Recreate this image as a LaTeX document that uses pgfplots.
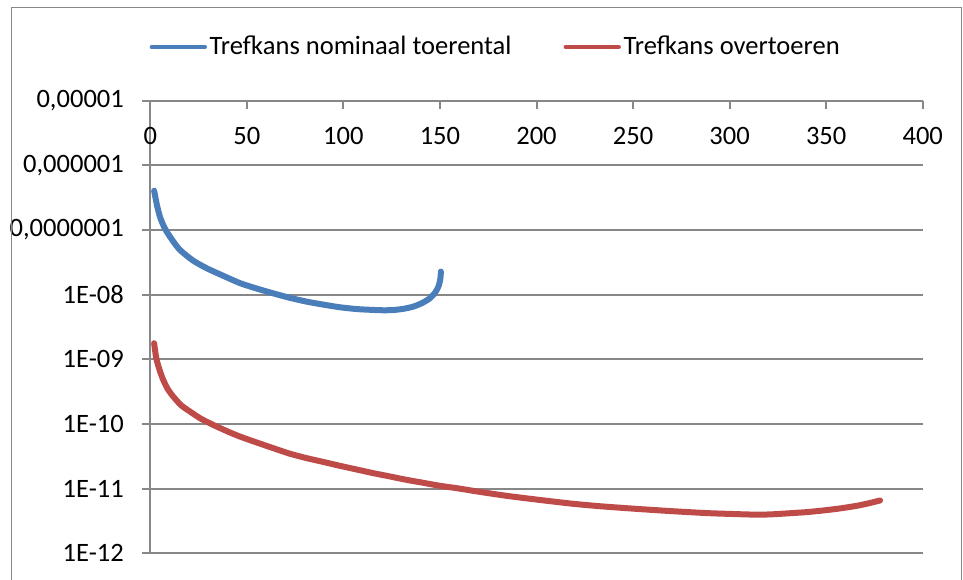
\documentclass[border=0pt]{standalone}
\usepackage{fontspec}
\setmainfont{Carlito}
\usepackage{pgfplots}
\pgfplotsset{compat=1.18}
\definecolor{sblue}{HTML}{4A7EBB}
\definecolor{sred}{HTML}{BE4B48}
\definecolor{gridgray}{HTML}{878787}
\begin{document}
\fontsize{19.9}{24}\selectfont
\begin{tikzpicture}
\path[use as bounding box] (-112.7pt,-19.3pt) rectangle (609.5pt,415pt);
\begin{axis}[
  scale only axis, width=579.3pt, height=339.45pt,
  ymode=log, ymin=1e-12, ymax=1e-5,
  xmin=0, xmax=400,
  xtick={0,50,...,400},
  ytick={1e-12,1e-11,1e-10,1e-9,1e-8,1e-7,1e-6,1e-5},
  yticklabels={1E-12,1E-11,1E-10,1E-09,1E-08,{0,0000001},{0,000001},{0,00001}},
  yminorticks=false,
  axis x line*=top, axis y line*=left,
  axis line style={gridgray, line width=1.5pt, -},
  ymajorgrids, major grid style={gridgray, line width=1.5pt},
  xtick align=inside, ytick align=outside,
  major tick length=6pt,
  tick style={gridgray, line width=1.5pt},
  xticklabel style={anchor=north, yshift=-13pt},
  yticklabel style={xshift=-7pt},
  /pgf/number format/assume math mode=true,
  legend columns=2,
  legend style={draw=none, fill=none, at={(0.4476,1)}, anchor=center, yshift=40.3pt,
    /tikz/every even column/.append style={column sep=37pt}},
  legend image code/.code={\draw[#1, line width=3pt, line cap=round] (0pt,0pt) -- (40pt,0pt);},
  clip=false,
]
\addplot[sblue, line width=4.5pt, line join=round, line cap=round, smooth, tension=0.4] coordinates {
(2,4.06e-7) (3.5,2.4e-7) (5,1.61e-7) (6.7,1.2e-7) (8.5,9.45e-8) (12,6.6e-8) (15.4,4.92e-8)
(22,3.4e-8) (29.2,2.57e-8) (38,1.95e-8) (46.5,1.51e-8) (55,1.25e-8) (63.7,1.05e-8)
(72,9.0e-9) (81,7.82e-9) (90,7.0e-9) (98.2,6.40e-9) (107,6.0e-9) (115.5,5.82e-9)
(121,5.75e-9) (125.8,5.8e-9) (131,6.05e-9) (136.2,6.55e-9) (141,7.5e-9) (144.8,8.83e-9)
(147.5,1.08e-8) (149.2,1.33e-8) (150.2,1.75e-8) (150.5,2.28e-8)
};
\addlegendentry{Trefkans nominaal toerental}
\addplot[sred, line width=4.5pt, line join=round, line cap=round, smooth, tension=0.4] coordinates {
(2,1.78e-9) (2.6,1.3e-9) (3.3,9.8e-10) (5,6.6e-10) (6.7,4.82e-10) (9,3.5e-10) (11.9,2.66e-10)
(16,1.95e-10) (20.6,1.56e-10) (26,1.22e-10) (32.6,9.7e-11) (40,7.7e-11) (46.5,6.4e-11)
(55,5.2e-11) (63.7,4.24e-11) (72,3.5e-11) (81,2.97e-11) (90,2.58e-11) (98.2,2.26e-11)
(107,1.98e-11) (115.5,1.74e-11) (124,1.55e-11) (132.8,1.37e-11) (141,1.24e-11)
(150,1.11e-11) (158.7,1.02e-11) (170,9.0e-12) (184.6,7.76e-12) (200,6.8e-12)
(219.1,5.84e-12) (235,5.3e-12) (253.6,4.84e-12) (270,4.5e-12) (288.1,4.20e-12)
(300,4.08e-12) (314,3.97e-12) (322,4.02e-12) (331.3,4.18e-12) (340,4.35e-12)
(348.5,4.61e-12) (357,4.95e-12) (365.8,5.44e-12) (372,5.95e-12) (377.9,6.58e-12)
};
\addlegendentry{Trefkans overtoeren}
\end{axis}
\draw[gridgray, line width=0.75pt] (-103.7pt,-40pt) -- (-103.7pt,409.7pt) -- (608pt,409.7pt) -- (608pt,-40pt);
\end{tikzpicture}
\end{document}
